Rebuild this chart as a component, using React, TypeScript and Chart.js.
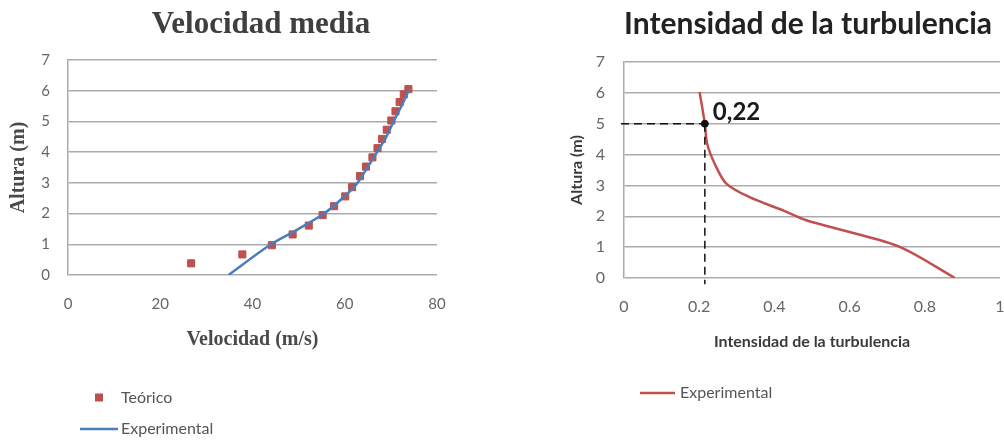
import React, { useEffect, useRef } from 'react';
import { Chart, registerables } from 'chart.js';

Chart.register(...registerables);

// ---------- Data: Velocidad media ----------
const VEL_X_TICK_STEP = 20;
const VEL_X_MIN = 0;
const VEL_X_MAX = 80;
const ALT_MIN = 0;
const ALT_MAX = 7;

const TEO_VEL = [26.7, 37.8, 44.2, 48.7, 52.2, 55.2, 57.7, 60.1, 61.6, 63.3, 64.6, 66.0, 67.1, 68.1, 69.1, 70.1, 71.0, 71.9, 72.8, 73.8];
const TEO_ALT = [0.38, 0.67, 0.97, 1.32, 1.61, 1.95, 2.24, 2.56, 2.86, 3.22, 3.53, 3.83, 4.13, 4.43, 4.73, 5.03, 5.33, 5.63, 5.88, 6.05];

const EXP_VEL = [34.8, 44, 50, 55.5, 59.5, 62.5, 64.5, 67, 69, 70.6, 72.3, 74];
const EXP_ALT = [0, 1, 1.5, 2, 2.5, 2.95, 3.4, 4, 4.5, 5, 5.5, 6.05];

// ---------- Data: Intensidad de la turbulencia ----------
const TI_X_MIN = 0;
const TI_X_MAX = 1;
const TI_X_STEP = 0.2;

const TI_VAL = [0.88, 0.735, 0.6, 0.485, 0.423, 0.334, 0.272, 0.241, 0.221, 0.215, 0.201];
const TI_ALT = [0, 1.0, 1.49, 1.87, 2.19, 2.62, 3.06, 3.71, 4.36, 5, 6.03];

const MARK_X = 0.215;
const MARK_Y = 5;
const MARK_LABEL = '0,22';
const GUIDE_H_X = [-0.008, MARK_X];
const GUIDE_V_Y = [MARK_Y, -0.2];

const zip = (xs: number[], ys: number[]) => xs.map((x, i) => ({ x, y: ys[i] }));

const TICK_COLOR = '#666666';
const GRID_COLOR = '#ababab';

type TextItem = (ctx: CanvasRenderingContext2D, chart: any) => void;

const drawPlugin = (id: string, items: TextItem[]) => ({
  id,
  afterDraw(chart: any) {
    const ctx = chart.ctx as CanvasRenderingContext2D;
    items.forEach((fn) => {
      ctx.save();
      fn(ctx, chart);
      ctx.restore();
    });
  },
});

function VelocidadChart() {
  const ref = useRef<HTMLCanvasElement | null>(null);
  useEffect(() => {
    if (!ref.current) return;
    const chart = new Chart(ref.current, {
      type: 'scatter',
      data: {
        datasets: [
          {
            label: 'Experimental',
            data: zip(EXP_VEL, EXP_ALT),
            showLine: true,
            borderColor: '#4a7ebb',
            backgroundColor: '#4a7ebb',
            borderWidth: 2.5,
            pointRadius: 0,
            tension: 0.3,
          },
          {
            label: 'Teórico',
            data: zip(TEO_VEL, TEO_ALT),
            showLine: false,
            pointStyle: 'rect',
            pointRadius: 5,
            borderWidth: 1,
            borderColor: '#b8504d',
            backgroundColor: '#c0504d',
          },
        ],
      },
      options: {
        animation: false,
        responsive: false,
        layout: { padding: { left: 0, right: 63, top: 60, bottom: 86 } },
        plugins: {
          legend: { display: false },
          tooltip: { enabled: false },
          title: { display: false },
        },
        scales: {
          x: {
            type: 'linear',
            min: VEL_X_MIN,
            max: VEL_X_MAX,
            ticks: { stepSize: VEL_X_TICK_STEP, color: TICK_COLOR, font: { family: 'Lato', size: 15 }, padding: 12 },
            grid: { display: false },
            border: { display: false },
            title: {
              display: true,
              text: 'Velocidad (m/s)',
              color: '#4a4a4a',
              font: { family: 'Liberation Serif', weight: 'bold', size: 20 },
              padding: { top: 0, bottom: 3 },
            },
            afterFit: (s: any) => {
              s.height = 80;
            },
          },
          y: {
            type: 'linear',
            min: ALT_MIN,
            max: ALT_MAX,
            ticks: { stepSize: 1, color: TICK_COLOR, font: { family: 'Lato', size: 15 }, padding: 18 },
            grid: { color: GRID_COLOR, lineWidth: 1.5, drawTicks: false },
            border: { display: true, color: GRID_COLOR, width: 1.5 },
            title: {
              display: true,
              text: 'Altura (m)',
              color: '#4a4a4a',
              font: { family: 'Liberation Serif', weight: 'bold', size: 20 },
              padding: { top: 7, bottom: 0 },
            },
            afterFit: (s: any) => {
              s.width = 68;
            },
          },
        },
      },
      plugins: [
        drawPlugin('velTexts', [
          (ctx) => {
            ctx.font = 'bold 31px "Liberation Serif"';
            ctx.fillStyle = '#3f3f3f';
            ctx.textAlign = 'center';
            ctx.textBaseline = 'alphabetic';
            ctx.fillText('Velocidad media', 261, 33);
          },
          (ctx) => {
            ctx.fillStyle = '#b8504d';
            ctx.fillRect(95, 393.5, 8, 8);
            ctx.font = '16px Lato';
            ctx.fillStyle = '#555555';
            ctx.textAlign = 'left';
            ctx.textBaseline = 'middle';
            ctx.fillText('Teórico', 121, 398);
          },
          (ctx) => {
            ctx.strokeStyle = '#4a7ebb';
            ctx.lineWidth = 2.5;
            ctx.beginPath();
            ctx.moveTo(80, 429);
            ctx.lineTo(118, 429);
            ctx.stroke();
            ctx.font = '16px Lato';
            ctx.fillStyle = '#555555';
            ctx.textAlign = 'left';
            ctx.textBaseline = 'middle';
            ctx.fillText('Experimental', 121, 429);
          },
        ]),
      ],
    } as any);
    return () => chart.destroy();
  }, []);
  return (
    <canvas
      ref={ref}
      width={500}
      height={441}
      style={{ position: 'absolute', left: 0, top: 0, width: 500, height: 441 }}
    />
  );
}

function TurbulenciaChart() {
  const ref = useRef<HTMLCanvasElement | null>(null);
  useEffect(() => {
    if (!ref.current) return;
    const chart = new Chart(ref.current, {
      type: 'scatter',
      data: {
        datasets: [
          {
            label: 'mark',
            data: [{ x: MARK_X, y: MARK_Y }],
            showLine: false,
            pointRadius: 3.5,
            backgroundColor: '#111111',
            borderColor: '#111111',
          },
          {
            label: 'guideH',
            data: GUIDE_H_X.map((x) => ({ x, y: MARK_Y })),
            showLine: true,
            borderColor: '#111111',
            borderWidth: 1.5,
            borderDash: [8, 5],
            pointRadius: 0,
            clip: false,
          },
          {
            label: 'guideV',
            data: GUIDE_V_Y.map((y) => ({ x: MARK_X, y })),
            showLine: true,
            borderColor: '#111111',
            borderWidth: 1.5,
            borderDash: [8, 5],
            pointRadius: 0,
            clip: false,
          },
          {
            label: 'Experimental',
            data: zip(TI_VAL, TI_ALT),
            showLine: true,
            borderColor: '#c0504d',
            backgroundColor: '#c0504d',
            borderWidth: 2.5,
            pointRadius: 0,
            tension: 0.3,
          },
        ],
      },
      options: {
        animation: false,
        responsive: false,
        layout: { padding: { left: 0, right: 30, top: 62, bottom: 83 } },
        plugins: {
          legend: { display: false },
          tooltip: { enabled: false },
          title: { display: false },
        },
        scales: {
          x: {
            type: 'linear',
            min: TI_X_MIN,
            max: TI_X_MAX,
            ticks: {
              stepSize: TI_X_STEP,
              color: TICK_COLOR,
              font: { family: 'Lato', size: 16 },
              padding: 11,
              callback: (v: any) => String(Math.round(Number(v) * 10) / 10),
            },
            grid: { display: false },
            border: { display: false },
            title: {
              display: true,
              text: 'Intensidad de la turbulencia',
              color: '#3a3a3a',
              font: { family: 'Lato', weight: 'bold', size: 16 },
              padding: { top: 0, bottom: 7 },
            },
            afterFit: (s: any) => {
              s.height = 80;
            },
          },
          y: {
            type: 'linear',
            min: ALT_MIN,
            max: ALT_MAX,
            ticks: { stepSize: 1, color: TICK_COLOR, font: { family: 'Lato', size: 16 }, padding: 19 },
            grid: { color: GRID_COLOR, lineWidth: 1.5, drawTicks: false },
            border: { display: true, color: GRID_COLOR, width: 1.5 },
            title: {
              display: true,
              text: 'Altura (m)',
              color: '#3a3a3a',
              font: { family: 'Lato', weight: 'bold', size: 16 },
              padding: { top: 67, bottom: 0 },
            },
            afterFit: (s: any) => {
              s.width = 124;
            },
          },
        },
      },
      plugins: [
        drawPlugin('turbTexts', [
          (ctx) => {
            ctx.font = 'bold 30px Lato';
            ctx.fillStyle = '#222222';
            ctx.textAlign = 'center';
            ctx.textBaseline = 'alphabetic';
            ctx.fillText('Intensidad de la turbulencia', 308, 34);
          },
          (ctx, chart) => {
            const px = chart.scales.x.getPixelForValue(MARK_X);
            const py = chart.scales.y.getPixelForValue(MARK_Y);
            ctx.font = 'bold 24px Lato';
            ctx.fillStyle = '#1a1a1a';
            ctx.textAlign = 'left';
            ctx.textBaseline = 'middle';
            ctx.fillText(MARK_LABEL, px + 8, py - 11);
          },
          (ctx) => {
            ctx.strokeStyle = '#c0504d';
            ctx.lineWidth = 2.5;
            ctx.beginPath();
            ctx.moveTo(140, 393);
            ctx.lineTo(175, 393);
            ctx.stroke();
            ctx.font = '16px Lato';
            ctx.fillStyle = '#555555';
            ctx.textAlign = 'left';
            ctx.textBaseline = 'middle';
            ctx.fillText('Experimental', 180, 393);
          },
        ]),
      ],
    } as any);
    return () => chart.destroy();
  }, []);
  return (
    <canvas
      ref={ref}
      width={530}
      height={441}
      style={{ position: 'absolute', left: 500, top: 0, width: 530, height: 441 }}
    />
  );
}

export default function App() {
  return (
    <div
      style={{
        position: 'absolute',
        left: 0,
        top: 0,
        width: 1004,
        height: 441,
        overflow: 'hidden',
        background: '#ffffff',
      }}
    >
      <VelocidadChart />
      <TurbulenciaChart />
    </div>
  );
}
